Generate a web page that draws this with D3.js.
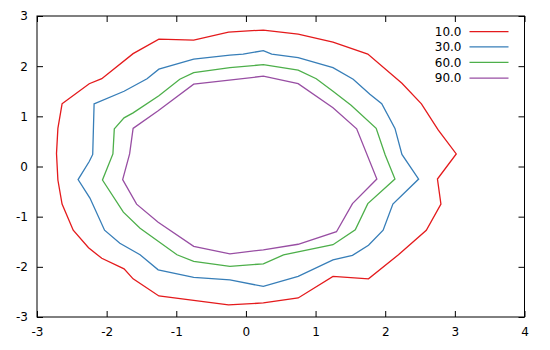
<!DOCTYPE html>
<html>
<head>
<meta charset="utf-8">
<script src="https://cdn.jsdelivr.net/npm/d3@7"></script>
<style>
  html, body { margin: 0; padding: 0; background: #fff; }
  svg { display: block; font-family: "DejaVu Sans", sans-serif; }
</style>
</head>
<body>
<svg id="chart" width="550" height="350"></svg>
<script>
// Contour levels and their colours
const levels = ["10.0", "30.0", "60.0", "90.0"];
const colors = ["#e41a1c", "#377eb8", "#4daf4a", "#984ea3"];

// Closed contour rings, as [x, y] vertices
const ring10 = [
  [-2.64, 1.25], [-2.25, 1.65], [-2.07, 1.75], [-1.62, 2.25], [-1.25, 2.54],
  [-0.75, 2.52], [-0.25, 2.68], [0.25, 2.72], [0.75, 2.64], [1.25, 2.48],
  [1.75, 2.24], [2.24, 1.66], [2.52, 1.25], [2.76, 0.73], [3.02, 0.25],
  [2.75, -0.25], [2.80, -0.75], [2.59, -1.27], [2.19, -1.76], [1.76, -2.24],
  [1.25, -2.19], [0.75, -2.62], [0.25, -2.72], [-0.25, -2.76], [-1.25, -2.58],
  [-1.62, -2.24], [-1.75, -2.04], [-2.07, -1.83], [-2.26, -1.62], [-2.48, -1.27],
  [-2.64, -0.75], [-2.70, -0.27], [-2.72, 0.26], [-2.70, 0.76]
];
const ring30 = [
  [-2.18, 1.25], [-1.75, 1.50], [-1.42, 1.75], [-1.25, 1.94], [-0.75, 2.14],
  [-0.23, 2.22], [-0.04, 2.24], [0.25, 2.31], [0.37, 2.24], [0.75, 2.17],
  [1.25, 1.97], [1.54, 1.74], [1.78, 1.44], [1.95, 1.25], [2.14, 0.76],
  [2.24, 0.24], [2.48, -0.25], [2.11, -0.75], [1.97, -1.27], [1.76, -1.57],
  [1.53, -1.77], [1.25, -1.86], [0.75, -2.19], [0.25, -2.39], [-0.23, -2.26],
  [-0.75, -2.21], [-1.26, -2.06], [-1.52, -1.76], [-1.81, -1.53], [-2.03, -1.27],
  [-2.24, -0.63], [-2.41, -0.26], [-2.25, 0.10], [-2.20, 0.24]
];
const ring60 = [
  [-1.89, 0.75], [-1.75, 0.97], [-1.62, 1.07], [-1.25, 1.41], [-0.95, 1.74],
  [-0.75, 1.87], [-0.23, 1.97], [0.25, 2.03], [0.75, 1.92], [1.01, 1.75],
  [1.25, 1.50], [1.51, 1.22], [1.87, 0.76], [2.00, 0.23], [2.14, -0.25],
  [1.75, -0.74], [1.57, -1.26], [1.25, -1.56], [0.54, -1.76], [0.25, -1.94],
  [-0.23, -1.99], [-0.75, -1.89], [-0.99, -1.76], [-1.26, -1.49], [-1.52, -1.23],
  [-1.76, -0.91], [-2.06, -0.27], [-1.91, 0.25]
];
const ring90 = [
  [-1.62, 0.76], [-1.26, 1.11], [-0.75, 1.64], [0.25, 1.80], [0.75, 1.65],
  [1.25, 1.17], [1.59, 0.75], [1.88, -0.25], [1.53, -0.74], [1.30, -1.30],
  [0.75, -1.55], [0.25, -1.66], [-0.23, -1.74], [-0.75, -1.59], [-1.26, -1.11],
  [-1.57, -0.75], [-1.77, -0.26], [-1.67, 0.25]
];
const rings = [ring10, ring30, ring60, ring90];

// Axis ticks
const xTicks = [-3, -2, -1, 0, 1, 2, 3, 4];
const yTicks = [-3, -2, -1, 0, 1, 2, 3];

const W = 550, H = 350;
const margin = { left: 37, right: 25.5, top: 16, bottom: 33 };
const svg = d3.select("#chart");

const x = d3.scaleLinear().domain([-3, 4]).range([margin.left, W - margin.right]);
const y = d3.scaleLinear().domain([-3, 3]).range([H - margin.bottom, margin.top]);

const tickLen = 6;
const fontSize = 12;

// Ticks on all four sides, pointing inward
const bottomAxis = d3.axisBottom(x).tickValues(xTicks).tickFormat(d3.format("d"))
  .tickSizeInner(-tickLen).tickSizeOuter(0).tickPadding(10);
const topAxis = d3.axisTop(x).tickValues(xTicks).tickFormat("")
  .tickSizeInner(-tickLen).tickSizeOuter(0);
const leftAxis = d3.axisLeft(y).tickValues(yTicks).tickFormat(d3.format("d"))
  .tickSizeInner(-tickLen).tickSizeOuter(0).tickPadding(9);
const rightAxis = d3.axisRight(y).tickValues(yTicks).tickFormat("")
  .tickSizeInner(-tickLen).tickSizeOuter(0);

function styleAxis(g) {
  g.select(".domain").remove();
  g.selectAll(".tick line").attr("stroke", "#000").attr("stroke-width", 1);
  g.selectAll(".tick text")
    .attr("fill", "#000")
    .attr("font-size", fontSize)
    .attr("font-family", "DejaVu Sans, sans-serif")
    .text(d => d3.format("d")(d).replace("\u2212", "-"));
}

svg.append("g").attr("transform", `translate(0,${y(-3)})`).call(bottomAxis).call(styleAxis);
svg.append("g").attr("transform", `translate(0,${y(3)})`).call(topAxis).call(g => {
  g.select(".domain").remove();
  g.selectAll(".tick line").attr("stroke", "#000");
  g.selectAll(".tick text").remove();
});
svg.append("g").attr("transform", `translate(${x(-3)},0)`).call(leftAxis).call(styleAxis);
svg.append("g").attr("transform", `translate(${x(4)},0)`).call(rightAxis).call(g => {
  g.select(".domain").remove();
  g.selectAll(".tick line").attr("stroke", "#000");
  g.selectAll(".tick text").remove();
});

// Contour rings
const line = d3.line()
  .x(d => x(d[0]))
  .y(d => y(d[1]))
  .curve(d3.curveLinearClosed);

svg.append("g")
  .selectAll("path")
  .data(rings)
  .join("path")
  .attr("d", line)
  .attr("fill", "none")
  .attr("stroke", (d, i) => colors[i])
  .attr("stroke-width", 1.3)
  .attr("stroke-linejoin", "miter");

// Legend
const legend = svg.append("g");
const legendRows = [31.7, 46.9, 62.4, 78.2];
levels.forEach((lvl, i) => {
  const ly = legendRows[i];
  legend.append("text")
    .attr("x", 461.5)
    .attr("y", ly)
    .attr("dy", "0.35em")
    .attr("text-anchor", "end")
    .attr("font-size", fontSize)
    .attr("fill", "#000")
    .text(lvl);
  legend.append("line")
    .attr("x1", 469.5).attr("x2", 508.5)
    .attr("y1", ly).attr("y2", ly)
    .attr("stroke", colors[i])
    .attr("stroke-width", 1.3);
});

// Plot frame
svg.append("rect")
  .attr("x", x(-3))
  .attr("y", y(3))
  .attr("width", x(4) - x(-3))
  .attr("height", y(-3) - y(3))
  .attr("fill", "none")
  .attr("stroke", "#000")
  .attr("stroke-width", 1);
</script>
</body>
</html>
